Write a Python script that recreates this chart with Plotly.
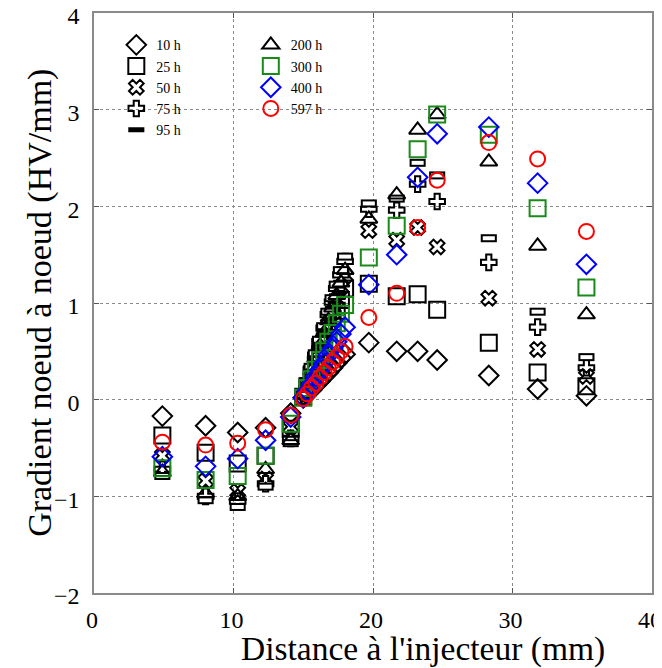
import plotly.graph_objects as go

# Distance à l'injecteur (mm) – common measurement positions
distance = [4.9, 8.0, 10.3, 12.3, 14.1,
            15.0, 15.3, 15.6, 15.9, 16.2, 16.5, 16.8, 17.1, 17.4, 17.7, 18.0,
            19.7, 21.7, 23.2, 24.6, 28.3, 31.8, 35.3]

labels = ["10 h", "25 h", "50 h", "75 h", "95 h", "200 h", "300 h", "400 h", "597 h"]

g_10h = [-0.17, -0.27, -0.34, -0.29, -0.14,
         0.02, 0.06, 0.10, 0.15, 0.19, 0.24, 0.28, 0.33, 0.38, 0.43, 0.47,
         0.59, 0.50, 0.50, 0.41, 0.25, 0.11, 0.04]
g_25h = [-0.37, -0.55, -0.66, -0.58, -0.30,
         0.03, 0.14, 0.25, 0.36, 0.47, 0.58, 0.69, 0.80, 0.92, 1.03, 1.15,
         1.20, 1.07, 1.09, 0.93, 0.59, 0.28, 0.14]
g_50h = [-0.58, -0.84, -0.95, -0.82, -0.28,
         0.03, 0.15, 0.27, 0.40, 0.52, 0.65, 0.78, 0.90, 1.03, 1.16, 1.28,
         1.75, 1.65, 1.78, 1.58, 1.05, 0.52, 0.24]
g_75h = [-0.72, -1.00, -1.05, -0.87, -0.40,
         0.04, 0.18, 0.32, 0.46, 0.60, 0.74, 0.88, 1.01, 1.15, 1.29, 1.43,
         1.97, 1.96, 2.23, 2.05, 1.42, 0.75, 0.33]
g_95h = [-0.79, -1.04, -1.11, -0.90, -0.45,
         0.05, 0.19, 0.34, 0.48, 0.62, 0.76, 0.91, 1.05, 1.19, 1.34, 1.48,
         2.03, 2.08, 2.45, 2.32, 1.67, 0.91, 0.44]
g_200h = [-0.75, -0.97, -1.00, -0.72, -0.42,
          0.04, 0.17, 0.30, 0.43, 0.56, 0.69, 0.82, 0.95, 1.08, 1.21, 1.34,
          1.87, 2.12, 2.79, 2.95, 2.46, 1.59, 0.88]
g_300h = [-0.71, -0.83, -0.79, -0.58, -0.25,
          0.02, 0.12, 0.21, 0.31, 0.41, 0.50, 0.60, 0.69, 0.79, 0.89, 0.98,
          1.47, 1.80, 2.59, 2.95, 2.74, 1.98, 1.16]
g_400h = [-0.59, -0.69, -0.61, -0.42, -0.18,
          0.02, 0.09, 0.16, 0.24, 0.31, 0.38, 0.46, 0.53, 0.60, 0.68, 0.75,
          1.19, 1.50, 2.30, 2.75, 2.82, 2.24, 1.40]
g_597h = [-0.44, -0.47, -0.45, -0.31, -0.16,
          0.01, 0.06, 0.12, 0.17, 0.23, 0.28, 0.33, 0.39, 0.44, 0.50, 0.55,
          0.85, 1.10, 1.78, 2.27, 2.66, 2.49, 1.74]

x_ticks = [0, 10, 20, 30, 40]
y_ticks = [-2, -1, 0, 1, 2, 3, 4]

series = [g_10h, g_25h, g_50h, g_75h, g_95h, g_200h, g_300h, g_400h, g_597h]
styles = [
    dict(symbol="diamond-open", size=15, color="black", legend="legend"),
    dict(symbol="square-open", size=16, color="black", legend="legend"),
    dict(symbol="x-open", size=13, color="black", legend="legend"),
    dict(symbol="cross-open", size=13, color="black", legend="legend"),
    dict(symbol="line-ew-open", size=11.5, color="black", legend="legend"),
    dict(symbol="triangle-up-open", size=15, color="black", legend="legend2"),
    dict(symbol="square-open", size=16, color="#1a8a1a", legend="legend2"),
    dict(symbol="diamond-open", size=15, color="#0000ff", legend="legend2"),
    dict(symbol="circle-open", size=15, color="#ff0000", legend="legend2"),
]

fig = go.Figure()
for name, ys, st in zip(labels, series, styles):
    lw = 8 if st["symbol"] == "line-ew-open" else 2
    fig.add_trace(go.Scatter(
        x=distance, y=ys, mode="markers", name=name, legend=st["legend"],
        marker=dict(symbol=st["symbol"], size=st["size"], color=st["color"],
                    line=dict(width=lw, color=st["color"])),
        cliponaxis=False,
    ))
    if st["symbol"] == "line-ew-open":
        # hollow interior of the flat rectangle marker
        fig.add_trace(go.Scatter(
            x=distance, y=ys, mode="markers", showlegend=False, hoverinfo="skip",
            marker=dict(symbol="line-ew-open", size=8.6, color="white",
                        line=dict(width=4, color="white")),
            cliponaxis=False,
        ))

font_family = "Liberation Serif"
axis_common = dict(
    showline=True, linecolor="#8a8a8a", linewidth=1.5, mirror="ticks",
    ticks="inside", ticklen=5, tickcolor="#555", tickwidth=1,
    showgrid=True, gridcolor="#8a8a8a", griddash="dot", gridwidth=1,
    zeroline=False, tickfont=dict(family=font_family, size=24, color="black"),
    ticklabeloverflow="allow", automargin=False,
)

fig.update_layout(
    width=654, height=660,
    margin=dict(l=86, r=10, t=5, b=75),
    plot_bgcolor="white", paper_bgcolor="white",
    font=dict(family=font_family, color="black"),
    xaxis=dict(range=[0, 40], tickvals=x_ticks, ticklabelstandoff=4,
               ticklabelshift=-2, **axis_common),
    yaxis=dict(range=[-2, 4], tickvals=y_ticks, ticklabelstandoff=8,
               ticklabelshift=3, **axis_common),
    annotations=[
        dict(text="Distance à l'injecteur (mm)", xref="paper", yref="paper",
             x=0.59, y=-0.097, xanchor="center", yanchor="middle",
             showarrow=False, font=dict(family=font_family, size=33.5)),
        dict(text="Gradient noeud à noeud (HV/mm)", xref="paper", yref="paper",
             x=-0.097, y=0.5, xanchor="center", yanchor="middle", textangle=-90,
             showarrow=False, font=dict(family=font_family, size=34)),
    ],
    legend=dict(x=0.04, y=0.972, xanchor="left", yanchor="top",
                bgcolor="rgba(0,0,0,0)", font=dict(family=font_family, size=14),
                tracegroupgap=0, itemsizing="trace"),
    legend2=dict(x=0.281, y=0.972, xanchor="left", yanchor="top",
                 bgcolor="rgba(0,0,0,0)", font=dict(family=font_family, size=14),
                 tracegroupgap=0, itemsizing="trace"),
)

fig.write_html("out.html")
